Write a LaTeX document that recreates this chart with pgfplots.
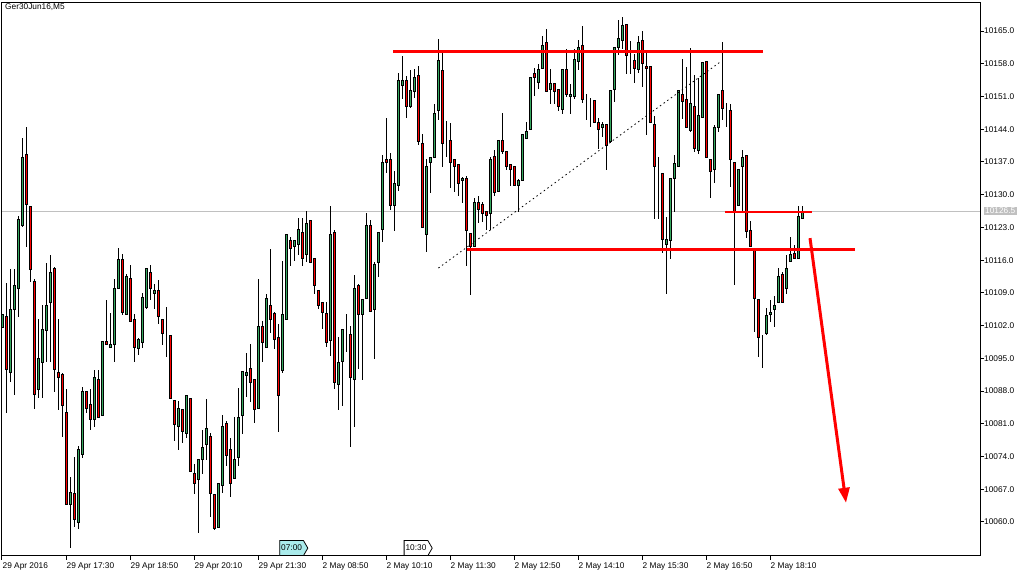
\documentclass[border=0pt]{standalone}
\usepackage{pgfplots}
\pgfplotsset{compat=1.18}
\usepackage{pgfplotstable}
\usepackage{fontspec}
\setmainfont{Liberation Sans}
\usetikzlibrary{shapes.symbols,arrows.meta}

\definecolor{bull}{RGB}{52,168,95}
\definecolor{bear}{RGB}{255,0,0}
\definecolor{bidgray}{RGB}{192,192,192}
\definecolor{vcyan}{RGB}{170,235,235}
\newcommand\mtfont{\fontsize{8.3}{9}\selectfont}

% Ger30Jun16 M5 bars: index, open, high, low, close
\pgfplotstableread{
i O H L C
0 10101.5 10104.3 10101.5 10104.3
1 10103.9 10111.1 10083.4 10092.5
2 10092.0 10114.1 10089.8 10105.5
3 10105.5 10114.1 10087.2 10110.5
4 10110.0 10125.5 10103.9 10124.6
5 10123.4 10142.2 10123.0 10138.0
6 10138.5 10144.6 10118.9 10128.0
7 10127.5 10127.5 10111.4 10114.0
8 10111.5 10112.0 10084.3 10087.3
9 10088.4 10103.4 10086.5 10095.0
10 10094.0 10106.4 10086.5 10101.1
11 10101.0 10115.6 10094.3 10106.4
12 10106.9 10117.1 10094.3 10113.4
13 10114.1 10114.6 10087.9 10092.5
14 10092.0 10103.4 10084.0 10091.0
15 10091.5 10092.0 10078.3 10084.9
16 10083.5 10088.5 10063.8 10063.8
17 10063.8 10069.5 10054.4 10066.4
18 10066.0 10074.0 10058.9 10060.5
19 10059.9 10076.2 10058.5 10075.4
20 10074.5 10089.0 10073.9 10088.0
21 10088.0 10088.0 10083.4 10084.3
22 10085.1 10088.5 10079.7 10082.0
23 10082.0 10092.5 10080.4 10091.0
24 10090.4 10092.5 10082.4 10082.4
25 10082.8 10098.5 10082.8 10098.5
26 10098.5 10107.5 10098.0 10098.0
27 10097.3 10104.7 10097.1 10098.0
28 10098.0 10112.0 10094.3 10110.0
29 10110.0 10118.7 10110.0 10116.1
30 10116.1 10117.5 10104.3 10104.8
31 10104.4 10113.1 10104.4 10112.6
32 10112.0 10115.0 10102.9 10102.9
33 10103.4 10104.5 10094.3 10097.3
34 10097.0 10099.3 10095.8 10099.0
35 10098.4 10109.1 10097.3 10107.9
36 10105.9 10114.1 10105.6 10114.1
37 10113.4 10115.0 10107.5 10110.0
38 10108.9 10110.9 10105.5 10109.4
39 10109.4 10112.0 10102.5 10103.9
40 10103.4 10103.4 10098.0 10100.4
41 10099.9 10106.1 10095.4 10099.9
42 10099.9 10099.9 10086.5 10086.5
43 10085.9 10085.9 10077.4 10080.9
44 10080.4 10085.9 10075.3 10084.3
45 10084.0 10084.0 10076.9 10079.4
46 10079.0 10087.0 10077.9 10087.0
47 10086.5 10086.5 10070.8 10070.8
48 10070.4 10072.4 10066.0 10068.3
49 10069.0 10073.4 10057.8 10073.4
50 10073.4 10079.9 10070.4 10076.0
51 10076.5 10086.5 10073.4 10079.9
52 10078.3 10079.0 10061.1 10066.0
53 10065.9 10065.9 10058.3 10058.6
54 10058.8 10068.3 10058.8 10068.3
55 10067.9 10082.9 10066.3 10080.5
56 10081.0 10081.5 10072.0 10074.3
57 10075.4 10078.0 10065.3 10068.3
58 10069.3 10082.5 10069.3 10073.4
59 10073.8 10088.9 10072.2 10082.4
60 10082.8 10092.5 10079.0 10092.2
61 10091.3 10096.1 10086.8 10092.0
62 10092.9 10098.1 10085.7 10089.9
63 10090.4 10090.4 10081.3 10084.0
64 10084.3 10112.0 10084.3 10101.9
65 10101.9 10103.0 10094.3 10098.4
66 10097.4 10108.9 10097.4 10107.8
67 10106.3 10118.5 10100.4 10103.4
68 10104.5 10104.9 10097.0 10099.0
69 10099.5 10102.5 10079.3 10087.0
70 10092.3 10116.0 10092.0 10104.4
71 10103.4 10121.5 10103.4 10121.5
72 10120.1 10121.0 10114.8 10118.5
73 10119.0 10120.5 10115.9 10120.1
74 10119.4 10125.0 10117.1 10122.5
75 10122.0 10125.0 10114.8 10116.4
76 10117.1 10126.5 10115.5 10123.9
77 10124.4 10124.4 10115.5 10115.5
78 10116.4 10116.4 10108.9 10110.5
79 10109.4 10109.4 10105.5 10106.3
80 10107.0 10107.0 10101.4 10104.8
81 10104.5 10107.1 10097.4 10098.4
82 10098.9 10127.7 10095.5 10121.5
83 10121.9 10122.5 10088.4 10089.9
84 10089.5 10099.6 10083.9 10094.1
85 10094.3 10101.4 10085.0 10101.1
86 10100.4 10104.5 10096.4 10100.4
87 10100.0 10102.0 10076.0 10090.9
88 10090.4 10113.0 10080.4 10110.0
89 10110.5 10110.9 10092.9 10104.4
90 10104.4 10107.8 10090.4 10107.5
91 10107.8 10126.2 10107.8 10123.5
92 10123.5 10124.6 10105.0 10105.0
93 10105.5 10115.7 10095.0 10115.0
94 10115.5 10122.0 10112.5 10122.0
95 10122.5 10138.5 10119.9 10136.9
96 10137.5 10146.5 10134.6 10136.9
97 10137.5 10139.0 10126.7 10127.6
98 10127.6 10135.1 10122.3 10132.4
99 10132.0 10156.0 10130.9 10154.4
100 10153.4 10159.7 10150.4 10154.5
101 10154.5 10155.6 10146.5 10148.8
102 10148.8 10156.7 10148.5 10152.2
103 10152.0 10157.0 10150.7 10155.1
104 10155.5 10157.5 10140.6 10141.3
105 10141.0 10143.0 10123.0 10123.0
106 10121.5 10137.8 10117.8 10136.1
107 10136.8 10138.0 10130.4 10138.0
108 10137.9 10149.5 10137.9 10147.4
109 10148.1 10163.4 10146.0 10158.6
110 10156.6 10160.6 10136.0 10141.0
111 10142.0 10146.0 10138.1 10142.0
112 10141.5 10145.5 10131.5 10136.9
113 10137.6 10137.6 10130.7 10136.0
114 10136.5 10136.5 10129.8 10132.4
115 10133.0 10134.0 10128.3 10133.5
116 10133.5 10134.0 10114.8 10122.3
117 10121.6 10121.6 10108.8 10119.0
118 10119.0 10129.4 10119.0 10128.4
119 10128.4 10129.8 10123.9 10126.9
120 10127.9 10128.4 10124.1 10126.0
121 10126.5 10126.5 10122.5 10125.5
122 10126.0 10138.1 10122.5 10137.6
123 10138.1 10139.5 10129.8 10130.4
124 10130.7 10141.5 10130.7 10141.5
125 10141.5 10147.5 10138.8 10139.3
126 10139.2 10139.2 10135.3 10136.0
127 10136.5 10136.5 10131.9 10135.4
128 10136.1 10136.1 10131.9 10131.9
129 10131.9 10133.5 10126.4 10133.1
130 10133.0 10142.9 10133.0 10142.9
131 10142.0 10145.6 10142.0 10143.6
132 10144.0 10155.1 10144.0 10155.1
133 10156.0 10157.0 10151.0 10155.0
134 10154.0 10158.2 10152.7 10156.7
135 10156.9 10164.1 10156.9 10162.0
136 10162.6 10165.6 10152.0 10152.0
137 10152.4 10157.0 10149.5 10153.7
138 10153.7 10153.7 10149.5 10152.0
139 10152.5 10152.5 10147.9 10148.8
140 10148.3 10157.0 10147.4 10156.7
141 10156.7 10161.3 10151.0 10151.5
142 10151.0 10153.7 10147.4 10151.5
143 10151.0 10161.1 10150.6 10159.0
144 10158.4 10163.1 10156.7 10161.5
145 10162.0 10166.1 10149.5 10150.4
146 10150.2 10151.6 10146.0 10150.2
147 10150.1 10150.6 10144.5 10150.1
148 10150.1 10150.1 10145.5 10145.5
149 10145.5 10146.6 10139.9 10144.0
150 10144.4 10145.6 10142.4 10145.0
151 10145.0 10145.0 10135.4 10140.6
152 10141.3 10152.2 10141.3 10152.2
153 10152.5 10161.5 10149.9 10161.5
154 10161.5 10167.5 10159.9 10163.4
155 10162.9 10168.1 10161.3 10166.1
156 10166.4 10166.4 10155.9 10159.7
157 10158.9 10162.9 10155.9 10158.9
158 10158.6 10160.2 10154.0 10157.0
159 10156.7 10164.1 10156.3 10162.6
160 10162.9 10165.0 10153.0 10158.1
161 10157.5 10160.6 10142.8 10157.0
162 10157.4 10157.4 10145.5 10145.5
163 10145.0 10147.0 10124.9 10136.1
164 10134.9 10138.1 10124.9 10134.9
165 10134.6 10134.6 10117.5 10120.5
166 10119.4 10125.4 10108.9 10120.4
167 10120.1 10133.5 10116.4 10133.5
168 10133.5 10138.5 10126.4 10136.6
169 10136.1 10152.2 10136.1 10152.2
170 10151.5 10159.0 10146.3 10149.9
171 10150.4 10157.5 10144.3 10144.3
172 10143.8 10161.6 10143.5 10149.5
173 10148.8 10155.6 10139.2 10139.9
174 10139.5 10154.9 10138.8 10147.0
175 10146.5 10158.6 10146.5 10158.2
176 10158.4 10158.4 10137.9 10137.9
177 10137.6 10137.6 10129.4 10134.9
178 10135.4 10145.0 10132.4 10144.4
179 10144.4 10151.5 10143.5 10151.5
180 10152.2 10162.6 10146.0 10148.5
181 10148.1 10149.5 10144.4 10148.1
182 10148.0 10149.5 10131.6 10137.6
183 10136.8 10136.8 10110.8 10126.4
184 10127.6 10135.4 10127.6 10135.4
185 10136.1 10139.5 10126.4 10138.0
186 10138.3 10138.3 10120.8 10122.1
187 10122.3 10124.6 10118.9 10118.9
188 10118.5 10118.5 10100.7 10107.8
189 10107.5 10107.5 10095.4 10099.4
190 10100.0 10100.0 10092.9 10100.0
191 10100.4 10105.8 10100.0 10104.1
192 10104.4 10107.5 10102.8 10104.9
193 10105.5 10108.5 10101.9 10106.4
194 10107.0 10114.5 10107.0 10112.6
195 10112.9 10113.5 10107.0 10107.0
196 10110.0 10117.1 10108.9 10114.1
197 10115.7 10120.9 10115.7 10117.1
198 10117.5 10119.2 10116.4 10116.4
199 10116.4 10127.6 10116.4 10125.4
200 10125.0 10127.6 10124.9 10126.5
}\bars

\pgfplotsset{chartbase/.style={
    scale only axis, width=978pt, height=553pt,
    at={(2pt,22pt)}, anchor=south west,
    xmin=0, xmax=244.5}}

\begin{document}
\begin{tikzpicture}
\path[use as bounding box] (0pt,0pt) rectangle (1034pt,578pt);

% wicks and bid line
\begin{axis}[chartbase, hide axis, ymin=10052.72, ymax=10170.99]
  \addplot[bidgray, line width=1pt] coordinates {(0,10126.5) (244.5,10126.5)};
  \addplot[draw=none, mark=none,
    error bars/.cd, y dir=both, y explicit, error mark=none,
    error bar style={draw=black, line width=1pt}]
    table[x=i, y expr={(\thisrow{H}+\thisrow{L})/2},
          y error expr={(\thisrow{H}-\thisrow{L})/2}] {\bars};
\end{axis}

% bodies, stacked on an invisible base (prices less 10050)
\begin{axis}[chartbase, hide axis, ymin=2.72, ymax=120.99,
    ybar stacked, bar width=2pt]
  \addplot[draw=none, fill=none]
    table[x=i, y expr={min(\thisrow{O},\thisrow{C})-10050}] {\bars};
  \addplot[draw=black, line width=1pt, fill=bull]
    table[x=i, y expr={max(\thisrow{C}-\thisrow{O},0)}] {\bars};
  \addplot[draw=black, line width=1pt, fill=bear]
    table[x=i, y expr={max(\thisrow{O}-\thisrow{C},0)}] {\bars};
\end{axis}

% frame, scales and drawn objects
\begin{axis}[chartbase, ymin=10052.72, ymax=10170.99, clip=false,
    axis line style={black, line width=1pt},
    tick align=outside, major tick length=4pt,
    tick style={black, line width=1pt},
    xtick pos=left, ytick pos=right, yticklabel pos=right,
    scaled y ticks=false,
    xtick={0,16,...,192},
    xticklabels={29 Apr 2016,29 Apr 17:30,29 Apr 18:50,29 Apr 20:10,29 Apr 21:30,2 May 08:50,2 May 10:10,2 May 11:30,2 May 12:50,2 May 14:10,2 May 15:30,2 May 16:50,2 May 18:10},
    xticklabel style={font=\mtfont, anchor=base west, inner sep=0pt,
      xshift=0.5pt, yshift=-9pt},
    ytick={10060,10067,...,10165},
    yticklabel style={font=\mtfont, anchor=west, inner sep=0pt},
    /pgf/number format/fixed,
    /pgf/number format/fixed zerofill,
    /pgf/number format/precision=1,
    /pgf/number format/1000 sep={},
    /pgf/number format/assume math mode=true]
  \addplot[red, line width=3.7pt] coordinates {(97.75,10160.6) (190.3,10160.6)};
  \addplot[red, line width=3pt] coordinates {(116.2,10118.3) (213.3,10118.3)};
  \addplot[red, line width=2pt] coordinates {(180.8,10126.2) (202.4,10126.2)};
  \addplot[black, line width=0.8pt, dash pattern=on 1.5pt off 3pt]
    coordinates {(109.1,10114.3) (179.9,10158.6)};
  \addplot[red, line width=3pt, -{Triangle[length=15pt,width=11pt]}]
    coordinates {(202,10120.7) (211,10064.1)};
  \node[font=\mtfont, anchor=base west, inner sep=0pt] at (axis cs:0,10170.99)
    [xshift=3pt, yshift=-7pt] {Ger30Jun16,M5};
  \node[fill=bidgray, text=white, font=\mtfont, anchor=west, inner sep=1.5pt]
    at (axis cs:244.5,10126.5) [xshift=3.5pt] {10126.5};
  \node[signal, signal to=east, signal pointer angle=120, draw=black,
    line width=0.8pt, fill=vcyan, font=\mtfont, inner xsep=1.5pt,
    minimum height=15pt, anchor=south] at (axis cs:72.4,10052.72) {07:00};
  \node[signal, signal to=east, signal pointer angle=120, draw=black,
    line width=0.8pt, fill=white, font=\mtfont, inner xsep=1.5pt,
    minimum height=15pt, anchor=south] at (axis cs:103.5,10052.72) {10:30};
\end{axis}
\end{tikzpicture}
\end{document}
